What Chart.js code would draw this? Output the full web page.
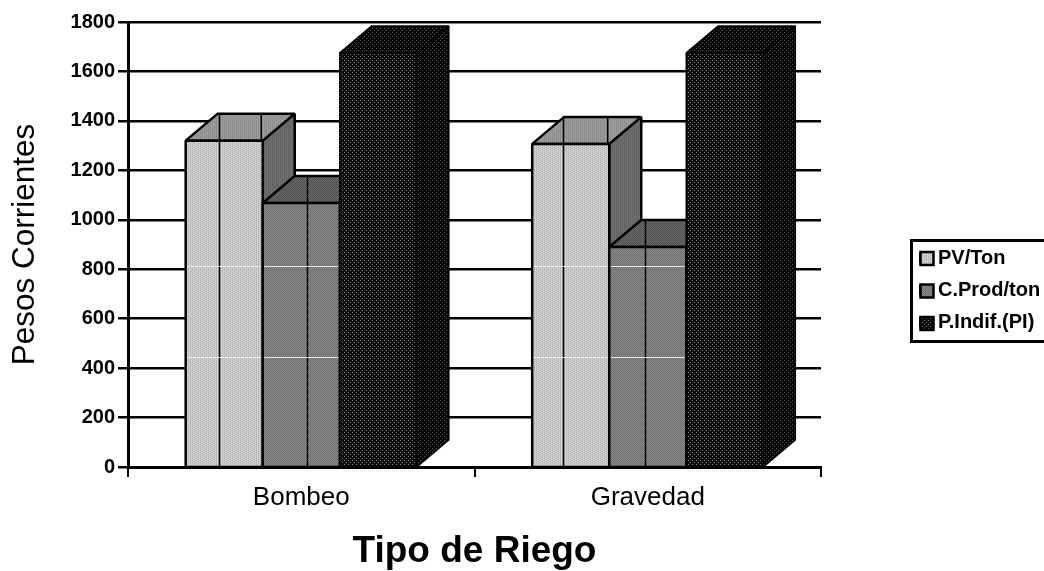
<!DOCTYPE html>
<html><head><meta charset="utf-8">
<style>html,body{margin:0;padding:0;background:#fff}canvas{display:block}#w{width:1044px;height:571px;position:relative}</style>
<script src="https://cdn.jsdelivr.net/npm/chart.js@4/dist/chart.umd.min.js"></script>
</head><body><div id="w"><canvas id="c" width="1044" height="571"></canvas></div>
<script>
const categories = ['Bombeo', 'Gravedad'];
const pvTon = [1320, 1307];
const cProdTon = [1068, 890];
const pIndif = [1675, 1675];
const seriesNames = ['PV/Ton', 'C.Prod/ton', 'P.Indif.(PI)'];
const yTicks = [0,200,400,600,800,1000,1200,1400,1600,1800];

function pat(w,h,draw){const c=document.createElement('canvas');c.width=w;c.height=h;draw(c.getContext('2d'));return document.createElement('canvas').getContext('2d').createPattern(c,'repeat');}
function weave(a,b){return pat(4,2,g=>{g.fillStyle=a;g.fillRect(0,0,4,2);g.fillStyle=b;g.fillRect(0,0,1,1);g.fillRect(2,1,1,1);});}
function check(a,b){return pat(2,2,g=>{g.fillStyle=a;g.fillRect(0,0,2,2);g.fillStyle=b;g.fillRect(0,0,1,1);g.fillRect(1,1,1,1);});}
function dots(a,b){return pat(4,4,g=>{g.fillStyle=a;g.fillRect(0,0,4,4);g.fillStyle=b;g.fillRect(0,0,1,1);g.fillRect(2,2,1,1);});}
const faces=[
 {front:weave('#cfcfcf','#a8a8a8'),top:weave('#9c9c9c','#808080'),side:weave('#6e6e6e','#585858')},
 {front:check('#8c8c8c','#6e6e6e'),top:check('#6a6a6a','#505050'),side:check('#505050','#3c3c3c')},
 {front:dots('#0c0c0c','#808080'),top:dots('#060606','#5a5a5a'),side:dots('#040404','#5a5a5a')}
];
const DX=32, DY=27;
const midLine=[[33,44],[31,36]];
const bar3d={id:'bar3d',
 beforeLayout(ch){const l=ch.legend;if(l&&!l._w){l._w=1;const f=l.fit.bind(l);l.fit=function(){f();this.width=223;};}},
 afterLayout(ch){const l=ch.legend;l.left=908;l.right=1131;l.top=236;l.bottom=571;},
 beforeDraw(ch){
  const g=ch.ctx;g.save();
  g.strokeStyle='#000';g.lineWidth=3;g.strokeRect(911.5,240.5,140,101);
  g.restore();
 },
 afterDatasetsDraw(ch){
  const g=ch.ctx,y=ch.scales.y,base=y.getPixelForValue(0);g.save();g.lineJoin='bevel';
  ch.data.datasets.forEach((d,i)=>{
   ch.getDatasetMeta(i).data.forEach((b,c)=>{
    const L=b.x-b.width/2,R=b.x+b.width/2,T=b.y,f=faces[i];
    const poly=(pts,fill)=>{g.beginPath();pts.forEach((p,k)=>k?g.lineTo(p[0],p[1]):g.moveTo(p[0],p[1]));g.closePath();g.fillStyle=fill;g.fill();g.strokeStyle='#000';g.lineWidth=i==2?1.5:2.5;g.stroke();};
    poly([[R,base],[R+DX,base-DY],[R+DX,T-DY],[R,T]],f.side);
    poly([[L,T],[L+DX,T-DY],[R+DX,T-DY],[R,T]],f.top);
    poly([[L,base],[L,T],[R,T],[R,base]],f.front);
    if(i<2){
     g.strokeStyle='#000';g.lineWidth=1.5;const mx=Math.round(L+midLine[c][i])+.5;
     g.beginPath();g.moveTo(mx,base);g.lineTo(mx,T-DY);
     if(i==0){g.moveTo(R-1.5,T);g.lineTo(R-1.5,T-DY);}
     g.stroke();
     g.strokeStyle='rgba(240,240,240,.9)';g.lineWidth=1;
     [815,443].forEach(v=>{const p=Math.round(y.getPixelForValue(v))+.5;g.beginPath();g.moveTo(L+1.5,p);g.lineTo(R-1.5,p);g.stroke();});
    }
   });
  });
  g.restore();
 },
 afterDraw(ch){
  const g=ch.ctx;g.save();
  faces.forEach((f,i)=>{const yy=252+32.5*i;g.fillStyle=f.front;g.fillRect(920.5,yy,13,13);g.strokeStyle='#000';g.lineWidth=2.5;g.strokeRect(920.5,yy,13,13);});
  g.restore();
 }
};
new Chart(document.getElementById('c'),{
 type:'bar',
 data:{labels:categories,datasets:[
  {label:seriesNames[0],data:pvTon,backgroundColor:faces[0].front,borderColor:'#000',borderWidth:2},
  {label:seriesNames[1],data:cProdTon,backgroundColor:faces[1].front,borderColor:'#000',borderWidth:2},
  {label:seriesNames[2],data:pIndif,backgroundColor:faces[2].front,borderColor:'#000',borderWidth:2}
 ]},
 plugins:[bar3d],
 options:{responsive:false,animation:false,
  layout:{padding:{top:22,right:0,left:0,bottom:0}},
  datasets:{bar:{categoryPercentage:0.667,barPercentage:1}},
  plugins:{tooltip:{enabled:false},
   legend:{position:'right',align:'start',labels:{boxWidth:8,boxHeight:8,padding:12,color:'#000',font:{family:'Liberation Sans',size:20,weight:'bold'}}}},
  scales:{
   x:{afterFit(s){s.height=104;},grid:{drawOnChartArea:false,color:'#000',lineWidth:2,tickLength:10},border:{color:'#000',width:3},
      ticks:{color:'#000',padding:5,maxRotation:0,font:{family:'Liberation Sans',size:26}},
      title:{display:true,text:'Tipo de Riego',color:'#000',font:{family:'Liberation Sans',size:37,weight:'bold'},padding:{top:0,bottom:-3}}},
   y:{min:0,max:1800,afterFit(s){s.width=128;},afterBuildTicks(s){s.ticks=yTicks.map(v=>({value:v}));},
      grid:{color:'#000',lineWidth:2.5,tickLength:10},border:{color:'#000',width:3},
      ticks:{color:'#000',padding:3,callback:v=>String(v),font:{family:'Liberation Sans',size:20,weight:'bold'}},
      title:{display:true,text:'Pesos Corrientes',color:'#000',font:{family:'Liberation Sans',size:31.5},padding:{top:6,bottom:0}}}
  }
 }
});
</script></body></html>
